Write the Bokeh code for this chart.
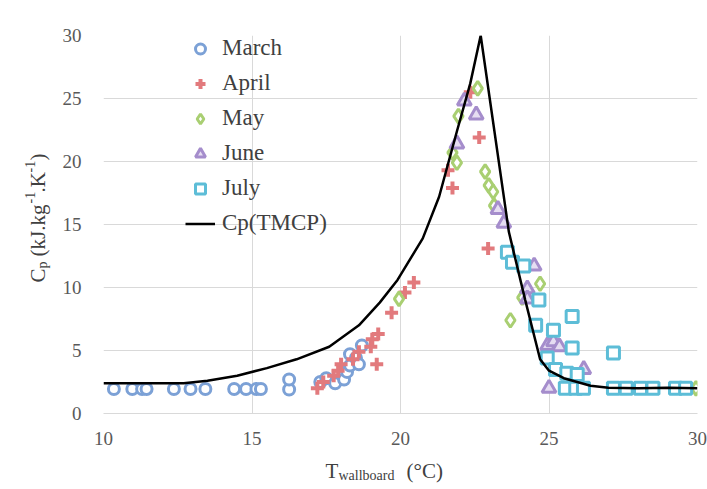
import math
from bokeh.plotting import figure
from bokeh.models import Range1d, FixedTicker, Legend, LegendItem
from bokeh.core.properties import value
from bokeh.embed import file_html
from bokeh.resources import INLINE

# ---- data ----
march_x = [10.35, 10.97, 11.3, 11.45, 12.37, 12.93, 13.43, 14.4, 14.8, 15.15, 15.3, 16.25, 16.25,
           17.3, 17.5, 17.8, 18.1, 18.2, 18.3, 18.3, 18.5, 18.6, 18.7]
march_y = [1.95, 1.95, 1.95, 1.95, 1.95, 1.95, 1.95, 1.95, 1.95, 1.95, 1.95, 1.9, 2.7,
           2.5, 2.8, 2.4, 2.7, 3.3, 3.8, 4.7, 4.4, 3.9, 5.4]

april_x = [17.2, 17.4, 17.75, 17.9, 18.0, 18.4, 18.6, 19.0, 19.05, 19.25, 19.2, 19.7, 20.15, 20.45,
           21.6, 21.75, 22.35, 22.65, 22.95]
april_y = [2.0, 2.5, 3.0, 3.4, 3.9, 4.3, 4.9, 5.3, 5.9, 6.3, 3.9, 8.0, 9.6, 10.4,
           19.3, 17.9, 25.5, 21.9, 13.1]

may_x = [19.95, 21.75, 21.9, 21.95, 22.6, 22.85, 22.97, 23.12, 23.15, 23.7, 24.1, 24.7, 29.95]
may_y = [9.1, 20.7, 19.9, 23.6, 25.8, 19.2, 18.1, 17.6, 16.5, 7.4, 9.2, 10.3, 2.0]

june_x = [21.9, 22.15, 22.55, 23.28, 23.48, 24.5, 24.27, 24.27, 24.95, 25.15, 25.35, 25.0, 26.17]
june_y = [21.4, 24.8, 23.7, 16.2, 15.1, 11.7, 9.9, 9.1, 5.4, 5.7, 5.3, 2.0, 3.5]

july_x = [23.6, 23.77, 24.15, 24.66, 24.55, 25.15, 25.78, 25.78, 27.17, 24.94, 25.22, 25.6, 25.95,
          25.55, 25.9, 26.16, 27.17, 27.6, 28.08, 28.5, 29.26, 29.6]
july_y = [12.8, 12.0, 11.7, 9.0, 7.0, 6.6, 7.7, 5.2, 4.8, 4.4, 3.5, 3.2, 3.1,
          2.0, 2.0, 2.0, 2.0, 2.0, 2.0, 2.0, 2.0, 2.0]

tmcp_x = [10, 12.7, 13.5, 14.5, 15.5, 16.5, 17.6, 18.6, 19.3, 19.9, 20.75, 21.3, 21.9, 22.35, 22.7,
          23.65, 24.2, 24.7, 25.0, 25.5, 26.4, 27.0, 28, 29, 30]
tmcp_y = [2.4, 2.4, 2.6, 3.0, 3.6, 4.3, 5.3, 7.0, 8.8, 10.6, 13.9, 17.2, 22.4, 26.2, 30,
          14.4, 9.0, 4.3, 3.4, 2.8, 2.2, 2.05, 2.0, 2.05, 2.0]

x_ticks = [10, 15, 20, 25, 30]
y_ticks = [0, 5, 10, 15, 20, 25, 30]

FONT = "Liberation Serif"
TXT = "#404040"
TICK = "#595959"
GRID = "#d9d9d9"

X0, X1, Y0, Y1 = 10, 30, 0, 30
FW, FH = 594, 378  # frame size in px

p = figure(width=707, height=489, output_backend="svg", toolbar_location=None,
           x_range=Range1d(X0, X1), y_range=Range1d(Y0, Y1))
p.min_border_left = 103
p.min_border_right = 10
p.min_border_top = 35
p.min_border_bottom = 76
p.outline_line_color = None
p.background_fill_color = "white"
p.border_fill_color = "white"

p.xaxis.ticker = FixedTicker(ticks=x_ticks)
p.yaxis.ticker = FixedTicker(ticks=y_ticks)
for ax in (p.xaxis[0], p.yaxis[0]):
    ax.major_tick_line_color = None
    ax.minor_tick_line_color = None
    ax.major_label_text_font = FONT
    ax.major_label_text_font_size = "19px"
    ax.major_label_text_color = TICK
ax = p.xaxis[0]
ax.axis_line_color = GRID
ax.major_label_standoff = 12
ay = p.yaxis[0]
ay.axis_line_color = None
ay.major_label_standoff = 16

p.xgrid.grid_line_color = GRID
p.ygrid.grid_line_color = GRID

r_mar = p.scatter(march_x, march_y, marker="circle", size=11, line_color="#7ca1d6",
                  line_width=3, fill_color="white")
r_apr = p.scatter(april_x, april_y, marker="cross", size=13, line_color="#e27a7d",
                  line_width=4)
r_may = p.scatter(may_x, may_y, marker="diamond", size=14, line_color="#a9cf72",
                  line_width=3, fill_color="white")
r_jun = p.scatter(june_x, june_y, marker="triangle", size=14, line_color="#a58dcc",
                  line_width=3, fill_color="#e6ddf2")
r_jul = p.scatter(july_x, july_y, marker="square", size=12, line_color="#5dbdd7",
                  line_width=3, fill_color="white")
r_line = p.line(tmcp_x, tmcp_y, line_color="black", line_width=2.5)

legend = Legend(items=[
    LegendItem(label="March", renderers=[r_mar]),
    LegendItem(label="April", renderers=[r_apr]),
    LegendItem(label="May", renderers=[r_may]),
    LegendItem(label="June", renderers=[r_jun]),
    LegendItem(label="July", renderers=[r_jul]),
    LegendItem(label="Cp(TMCP)", renderers=[r_line]),
], location=(82, 177))
legend.padding = 0
legend.margin = 0
legend.spacing = 9
legend.glyph_width = 30
legend.glyph_height = 25
legend.label_height = 25
legend.label_standoff = 7
legend.label_text_font = FONT
legend.label_text_font_size = "23px"
legend.label_text_color = TXT
legend.background_fill_alpha = 0
legend.border_line_color = None
p.add_layout(legend, "center")


def lab(px, py, text, size, angle=0.0):
    # px, py: offsets in pixels from the frame's bottom-left corner
    x = X0 + px * (X1 - X0) / FW
    y = Y0 + py * (Y1 - Y0) / FH
    p.text(x=[x], y=[y], text=[text], angle=angle,
           text_font=value(FONT), text_font_size=size, text_color=TXT,
           text_align="left", text_baseline="alphabetic", level="overlay")


# x-axis title: T_wallboard (°C)
lab(222, -57, "T", "21px")
lab(235, -62, "wallboard", "14px")
lab(303, -57, "(°C)", "21px")

# y-axis title: C_p (kJ.kg-1.K-1), rotated
A = math.pi / 2
bx = -66
lab(bx, 131, "C", "21px", A)
lab(bx + 5, 145, "p", "14px", A)
lab(bx, 157, "(kJ.kg", "21px", A)
lab(bx - 8, 210, "-1", "14px", A)
lab(bx, 221, ".K", "21px", A)
lab(bx - 8, 241, "-1", "14px", A)
lab(bx, 253, ")", "21px", A)

open("out.html", "w").write(file_html(p, INLINE))
